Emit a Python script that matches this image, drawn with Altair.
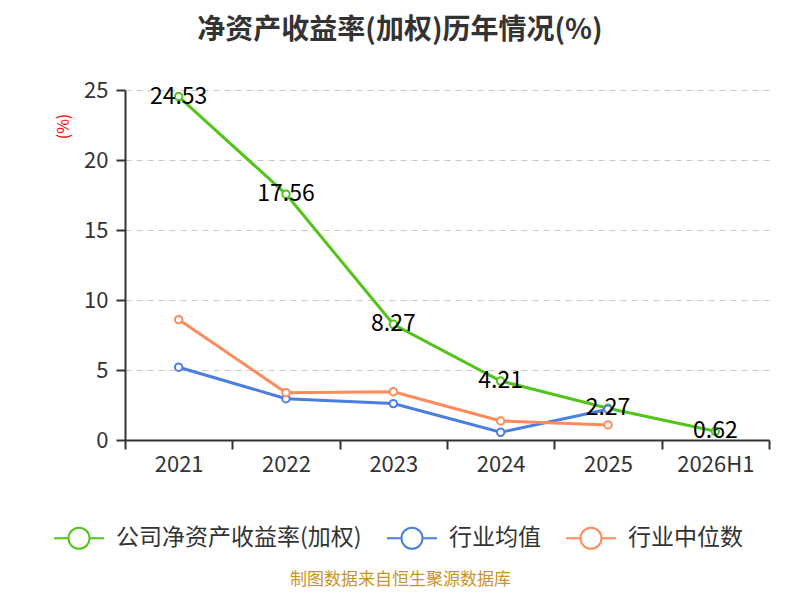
import altair as alt
import pandas as pd

years = ["2021", "2022", "2023", "2024", "2025", "2026H1"]
company = [24.53, 17.56, 8.27, 4.21, 2.27, 0.62]
ind_avg = [5.2, 2.95, 2.6, 0.55, 2.2]
ind_med = [8.6, 3.38, 3.45, 1.36, 1.08]
series_names = ["公司净资产收益率(加权)", "行业均值", "行业中位数"]
colors = ["#52c41a", "#4a7fe0", "#ff8a5b"]
y_ticks = [0, 5, 10, 15, 20, 25]

rows = []
for y, v in zip(years, company):
    rows.append({"year": y, "series": series_names[0], "value": v})
for y, v in zip(years, ind_avg):
    rows.append({"year": y, "series": series_names[1], "value": v})
for y, v in zip(years, ind_med):
    rows.append({"year": y, "series": series_names[2], "value": v})
df = pd.DataFrame(rows)

FONT = "Noto Sans CJK SC"
sym = "M-1,0L-0.42,0M0.42,0L1,0M-0.42,0A0.42,0.42 0 1,1 0.42,0A0.42,0.42 0 1,1 -0.42,0Z"

legend = alt.Legend(
    title=None, orient="none", legendX=-72, legendY=422, direction="horizontal",
    symbolType=sym, symbolSize=2500, symbolStrokeWidth=2, symbolFillColor="white",
    labelFont=FONT, labelFontSize=23, labelColor="#333333", labelLimit=400,
    labelOffset=11, columnPadding=21, symbolOpacity=1,
)
color = alt.Color("series:N", scale=alt.Scale(domain=series_names, range=colors),
                  sort=series_names, legend=legend)

x = alt.X("year:O", sort=years, scale=alt.Scale(domain=years, paddingInner=0, paddingOuter=0),
          axis=alt.Axis(title="制图数据来自恒生聚源数据库", titleColor="#c8942a", titleFont=FONT,
                        titleFontSize=17, titleFontWeight="normal", titleX=275, titleY=131,
                        titleAnchor="middle",
                        labelAngle=0, labelFont=FONT, labelFontSize=22, labelColor="#333333",
                        labelPadding=5, domainColor="#333333", domainWidth=2,
                        tickColor="#333333", tickWidth=2, tickSize=9, tickBand="extent",
                        grid=False))
y = alt.Y("value:Q", scale=alt.Scale(domain=[0, 25], nice=False),
          axis=alt.Axis(values=y_ticks, title="(%)", titleColor="#ff0000", titleFont=FONT,
                        titleFontSize=16, titleFontWeight="normal", titleX=-62, titleY=36,
                        titleAngle=-90, titleAlign="center", titleBaseline="middle",
                        labelFont=FONT, labelFontSize=22, labelColor="#333333", labelPadding=8,
                        domainColor="#333333", domainWidth=2, tickColor="#333333",
                        tickWidth=2, tickSize=9, grid=True, gridColor="#c8c8c8",
                        gridDash=[6, 5], gridWidth=1.2))

base = alt.Chart(df).encode(x=x, y=y, color=color, order=alt.Order("year:O"))
lines = base.mark_line(strokeWidth=3)
points = base.mark_point(filled=False, fill="white", fillOpacity=1, opacity=1, size=55, strokeWidth=2)
labels = alt.Chart(df[df["series"] == series_names[0]]).mark_text(
    font=FONT, fontSize=23, color="#000000", baseline="middle", align="center"
).encode(x=x, y=y, text=alt.Text("value:Q", format=".2f"))

chart = alt.layer(lines, points, labels).properties(
    width=644, height=350,
    autosize=alt.AutoSizeParams(type="none"),
    padding={"left": 117, "top": 82, "right": 23, "bottom": 150},
    title=alt.TitleParams("净资产收益率(加权)历年情况(%)", font=FONT, fontSize=28, fontWeight="bold",
                          color="#333333", anchor="middle", dx=-47, offset=34),
).configure_view(stroke=None)

chart.save("out.html", embed_options={"renderer": "svg", "actions": False})
